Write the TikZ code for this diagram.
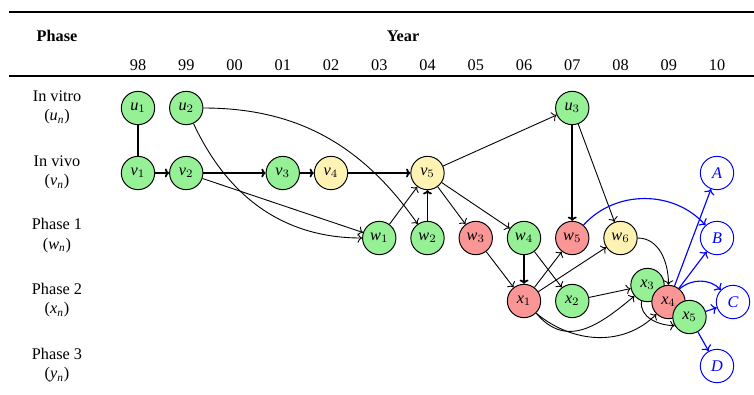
\documentclass[tikz,border=0pt]{standalone}
\usepackage{fontspec}
\setmainfont{Liberation Serif}
\usetikzlibrary{arrows.meta}
\pgfdeclarelayer{bg}
\pgfsetlayers{bg,main}
\definecolor{ngreen}{RGB}{150,240,150}
\definecolor{nred}{RGB}{250,150,150}
\definecolor{nyellow}{RGB}{255,243,180}
\newcommand\lb[2]{$\mathit{#1}_{#2}$}
\begin{document}
\begin{tikzpicture}[x=0.615pt,y=0.615pt,
  nd/.style={circle,draw,line width=0.6pt,minimum size=20.5pt,inner sep=0pt},
  gn/.style={nd,fill=ngreen},
  rn/.style={nd,fill=nred},
  yn/.style={nd,fill=nyellow},
  bn/.style={nd,draw=blue,text=blue,fill=white},
  ed/.style={-{To},line width=0.55pt},
  tk/.style={-{To[scale=0.65]},line width=1.1pt},
  be/.style={-{To},blue,line width=0.7pt},
  rowlab/.style={align=center}]
\useasboundingbox (0,0) rectangle (754,-394);
% rules
\draw[line width=1.8pt] (9,-12) -- (754,-12);
\draw[line width=1.2pt] (9,-76) -- (754,-76);
% headers
\node[font=\bfseries] (hphase) at (57,-36) {Phase};
\node[font=\bfseries] (hyear) at (403,-36) {Year};
\foreach \t [count=\i from 0] in {98,99,00,01,02,03,04,05,06,07,08,09,10}
  \node (yr\t) at ({138+48.25*\i},-65) {\t};
% row labels
\node[rowlab] (lu) at (57,-107.5) {In vitro\\(\lb{u}{\mathit{n}})};
\node[rowlab] (lv) at (57,-172.5) {In vivo\\(\lb{v}{\mathit{n}})};
\node[rowlab] (lw) at (57,-235.5) {Phase 1\\(\lb{w}{\mathit{n}})};
\node[rowlab] (lx) at (57,-300) {Phase 2\\(\lb{x}{\mathit{n}})};
\node[rowlab] (ly) at (57,-365) {Phase 3\\(\lb{y}{\mathit{n}})};
% nodes
\node[gn] (u1) at (138,-108) {\lb{u}{1}};
\node[gn] (u2) at (186.25,-108) {\lb{u}{2}};
\node[gn] (u3) at (572.25,-108) {\lb{u}{3}};
\node[gn] (v1) at (138,-173) {\lb{v}{1}};
\node[gn] (v2) at (186.25,-173) {\lb{v}{2}};
\node[gn] (v3) at (282.75,-173) {\lb{v}{3}};
\node[yn] (v4) at (331,-173) {\lb{v}{4}};
\node[yn] (v5) at (427.5,-173) {\lb{v}{5}};
\node[gn] (w1) at (379.25,-238) {\lb{w}{1}};
\node[gn] (w2) at (427.5,-238) {\lb{w}{2}};
\node[rn] (w3) at (475.75,-238) {\lb{w}{3}};
\node[gn] (w4) at (524,-238) {\lb{w}{4}};
\node[rn] (w5) at (572.25,-238) {\lb{w}{5}};
\node[yn] (w6) at (620.5,-238) {\lb{w}{6}};
\node[rn] (x1) at (524,-301) {\lb{x}{1}};
\node[gn] (x2) at (572.25,-301) {\lb{x}{2}};
\node[gn] (x3) at (647.5,-285) {\lb{x}{3}};
\node[rn] (x4) at (668.5,-302) {\lb{x}{4}};
\node[gn] (x5) at (689.5,-317) {\lb{x}{5}};
\node[bn] (A) at (717,-173) {\textit{A}};
\node[bn] (B) at (717,-238) {\textit{B}};
\node[bn] (C) at (733,-302) {\textit{C}};
\node[bn] (D) at (717,-366) {\textit{D}};
% edges
\begin{pgfonlayer}{bg}
\draw[tk,-] (u1) -- (v1);
\draw[tk] (v1) -- (v2);
\draw[tk] (v2) -- (v3);
\draw[tk] (v3) -- (v4);
\draw[tk] (v4) -- (v5);
\draw[ed] (v2) -- (w1);
\draw[ed] (u2.-65) to[out=-65,in=180] (w1);
\draw[ed] (u2) to[out=0,in=125] (w2);
\draw[ed] (w1) -- (v5);
\draw[tk] (w2) -- (v5);
\draw[ed] (v5) -- (u3);
\draw[ed] (v5) -- (w3);
\draw[ed] (v5) -- (w4);
\draw[tk] (u3) -- (w5);
\draw[ed] (u3) -- (w6);
\draw[ed] (w3) -- (x1);
\draw[tk] (w4) -- (x1);
\draw[ed] (w4) -- (x2);
\draw[ed] (x1) -- (w5);
\draw[ed] (x1) -- (w6);
\draw[ed] (x2) -- (x3);
\draw[ed] (x1.-45) to[out=-50,in=-140,looseness=1.2] (x3);
\draw[ed] (x1.-45) to[out=-40,in=-135] (x4);
\draw[ed] (x3.-110) to[out=-100,in=180] (x5.-150);
\draw[ed] (w6.east) to[out=0,in=90] (x4.north);
\draw[be] (w5.49) to[out=48,in=132] (B);
\draw[be] (x4) -- (A);
\draw[be] (x4) -- (B);
\draw[be] (x4.50) to[out=40,in=135] (C);
\draw[be] (x5) -- (C);
\draw[be] (x5) -- (D);
\end{pgfonlayer}
\end{tikzpicture}
\end{document}
